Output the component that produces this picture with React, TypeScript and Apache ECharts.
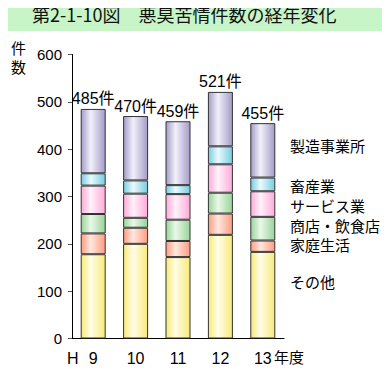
import React, { useEffect, useRef } from "react";
import * as echarts from "echarts";

const categories = ["9", "10", "11", "12", "13"];
const seriesNames = ["その他", "家庭生活", "商店・飲食店", "サービス業", "畜産業", "製造事業所"];
const sonota = [178, 200, 172, 219, 183];
const katei = [44, 34, 34, 45, 24];
const shoten = [41, 21, 45, 44, 50];
const service = [60, 51, 54, 60, 54];
const chikusan = [26, 28, 19, 38, 29];
const seizo = [136, 136, 135, 115, 115];
const totals = [485, 470, 459, 521, 455];
const yTicks = [0, 100, 200, 300, 400, 500, 600];

const colorPairs: [string, string][] = [
  ["#f8ea78", "#fffde8"],
  ["#ff9c80", "#ffe8e0"],
  ["#98d498", "#eaf8ea"],
  ["#ffaad8", "#fff2fa"],
  ["#78cce0", "#eafafd"],
  ["#a49cc8", "#f2f0fa"],
];

const narrow = '"Liberation Sans Narrow", "Arial Narrow", "Liberation Sans", "Noto Sans CJK JP", sans-serif';
const cjk = '"Noto Sans CJK JP", sans-serif';

export default function App() {
  const ref = useRef<HTMLDivElement>(null);
  useEffect(() => {
    if (!ref.current) return;
    const chart = echarts.init(ref.current, null, { renderer: "svg" });
    const values = [sonota, katei, shoten, service, chikusan, seizo];
    const grad = (edge: string, center: string) =>
      new echarts.graphic.LinearGradient(0, 0, 1, 0, [
        { offset: 0, color: edge },
        { offset: 0.4, color: center },
        { offset: 1, color: edge },
      ]);
    const series = values.map((v, i) => ({
      name: seriesNames[i],
      type: "bar",
      stack: "all",
      data: v,
      barWidth: 25,
      itemStyle: {
        color: grad(colorPairs[i][0], colorPairs[i][1]),
        borderColor: "#333",
        borderWidth: 1,
      },
      label:
        i === values.length - 1
          ? {
              show: true,
              position: "top",
              distance: 2,
              formatter: (p: any) => totals[p.dataIndex] + "件",
              fontFamily: narrow,
              fontSize: 16,
              color: "#000",
            }
          : { show: false },
    }));
    const legendY = [147, 187, 207, 227, 246, 283].reverse();
    const legendTexts = [...seriesNames].map((n, i) => ({
      type: "text",
      left: 290,
      top: legendY[i] - 9,
      style: { text: n, fontSize: 15, fontFamily: cjk, fill: "#000" },
    }));
    chart.setOption({
      animation: false,
      backgroundColor: "#fff",
      grid: { left: 72, right: 106, top: 54.5, bottom: 35.5, containLabel: false },
      xAxis: {
        type: "category",
        data: categories,
        axisLine: { lineStyle: { color: "#000", width: 1 } },
        axisTick: { show: false },
        axisLabel: { color: "#000", fontSize: 16, fontFamily: narrow, margin: 12 },
      },
      yAxis: {
        type: "value",
        min: yTicks[0],
        max: yTicks[yTicks.length - 1],
        interval: 100,
        axisLine: { show: true, lineStyle: { color: "#000", width: 1 } },
        axisTick: { show: true, length: 4, lineStyle: { color: "#555" } },
        splitLine: { show: false },
        axisLabel: { color: "#000", fontSize: 15, fontFamily: narrow, margin: 10 },
      },
      series,
      graphic: [
        {
          type: "rect",
          left: 0,
          top: 0,
          shape: { width: 390, height: 31 },
          style: { fill: "#c8f5c8" },
          z: -1,
        },
        {
          type: "text",
          left: 32,
          top: 5,
          style: {
            text: "第2-1-10図　悪臭苦情件数の経年変化",
            fontSize: 18,
            fontFamily: cjk,
            fill: "#111",
          },
        },
        {
          type: "text",
          left: 11,
          top: 38,
          style: { text: "件\n数", fontSize: 15, lineHeight: 19, fontFamily: cjk, fill: "#000" },
        },
        {
          type: "text",
          left: 67,
          top: 350,
          style: { text: "H", fontSize: 16, fontFamily: narrow, fill: "#000" },
        },
        {
          type: "text",
          left: 274,
          top: 349,
          style: { text: "年度", fontSize: 15, fontFamily: cjk, fill: "#000" },
        },
        ...legendTexts,
      ],
    });
    return () => chart.dispose();
  }, []);
  return <div ref={ref} style={{ width: 390, height: 374, margin: -8 }} />;
}
